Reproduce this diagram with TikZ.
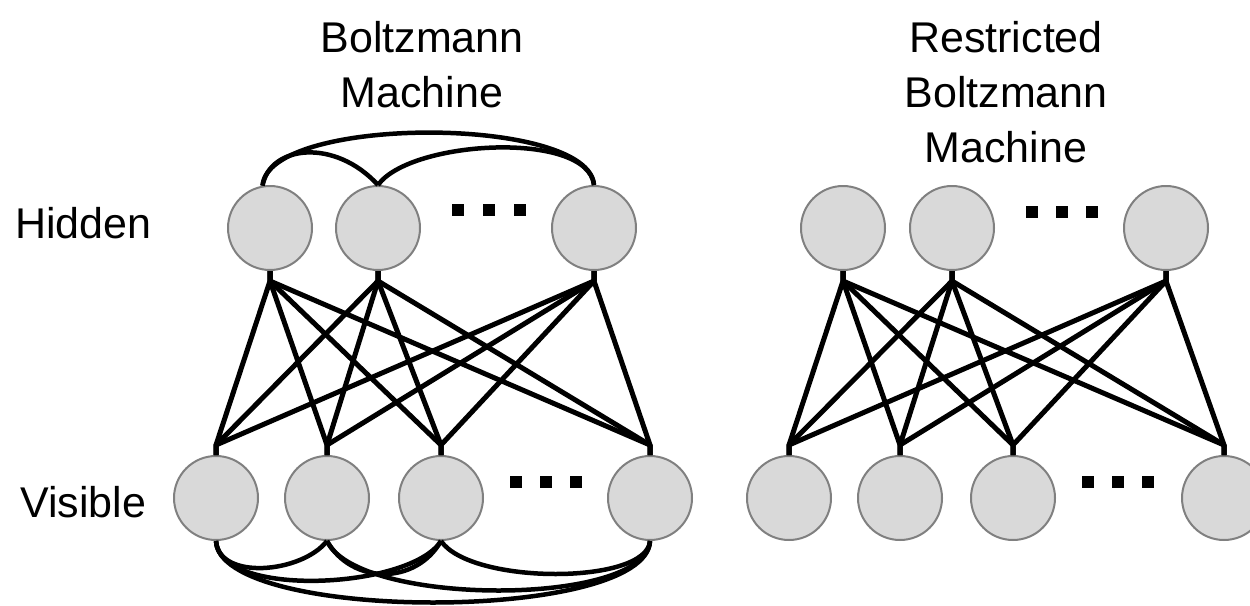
\documentclass[tikz,border=0pt]{standalone}
\usepackage{fontspec}
\setmainfont{Liberation Sans}
\usetikzlibrary{positioning}

\begin{document}
\begin{tikzpicture}[x=1pt,y=-1pt,on grid,
        unit/.style={circle,draw=black!50,fill=black!15,line width=2pt,minimum size=84pt,inner sep=0pt},
        link/.style={line width=5pt,line join=round},
        bond/.style={line width=4.5pt},
        lbl/.style={font=\fontsize{43}{55}\selectfont,inner sep=0pt,align=center}]
    \useasboundingbox (0,0) rectangle (1250,605);
    % Boltzmann machine
    \node[unit] (h1) at (270,228) {};
    \node[unit] (h2) [right=108pt of h1] {};
    \node[unit] (h3) [right=216pt of h2] {};
    \node[unit] (v1) at (216,498) {};
    \node[unit] (v2) [right=111pt of v1] {};
    \node[unit] (v3) [right=114pt of v2] {};
    \node[unit] (v4) [right=209pt of v3] {};
    \foreach \h in {h1,h2,h3}
        \foreach \v in {v1,v2,v3,v4}
            \draw[link] (\h.south) -- ([yshift=-10pt]\h.south) -- ([yshift=10pt]\v.north) -- (\v.north);
    \draw[bond] (h1.100) .. controls (268,115) and (589,115) .. (h3.north);
    \draw[bond] (h1.100) .. controls (270,145) and (335,138) .. (h2.north);
    \draw[bond] (h2.north) .. controls (410,140) and (588,130) .. (h3.north);
    \draw[bond] (v1.south) .. controls +(3,40) and +(-25,32) .. (v2.south);
    \draw[bond] (v1.south) .. controls +(3,58) and +(-30,48) .. (v3.south);
    \draw[bond] (v1.south) .. controls +(3,82) and +(-3,82) .. (v4.south);
    \draw[bond] (v2.south) .. controls +(25,44) and +(-25,44) .. (v3.south);
    \draw[bond] (v2.south) .. controls +(30,66) and +(-3,66) .. (v4.south);
    \draw[bond] (v3.south) .. controls +(30,44) and +(-3,44) .. (v4.south);
    % restricted Boltzmann machine
    \node[unit] (rh1) at (843,228) {};
    \node[unit] (rh2) [right=109pt of rh1] {};
    \node[unit] (rh3) [right=214pt of rh2] {};
    \node[unit] (rv1) at (789,498) {};
    \node[unit] (rv2) [right=111pt of rv1] {};
    \node[unit] (rv3) [right=113pt of rv2] {};
    \node[unit] (rv4) [right=211pt of rv3] {};
    \foreach \h in {rh1,rh2,rh3}
        \foreach \v in {rv1,rv2,rv3,rv4}
            \draw[link] (\h.south) -- ([yshift=-10pt]\h.south) -- ([yshift=10pt]\v.north) -- (\v.north);
    % dots
    \foreach \x/\y in {458/210,489/210,520/210,516/482,546/482,576/482,
                       1032/212,1062/212,1092/212,1088/482,1118/482,1148/482}
        \fill (\x,\y) ++(-6,-6) rectangle ++(12,12);
    % labels
    \node[lbl,anchor=north] (bmtitle) at (422,21) {Boltzmann\\Machine};
    \node[lbl,anchor=north] (rbmtitle) at (1006,21) {Restricted\\Boltzmann\\Machine};
    \node[lbl,anchor=base west] (hidlbl) at (15,238) {Hidden};
    \node[lbl,anchor=base west] (vislbl) at (20,517) {Visible};
\end{tikzpicture}
\end{document}
